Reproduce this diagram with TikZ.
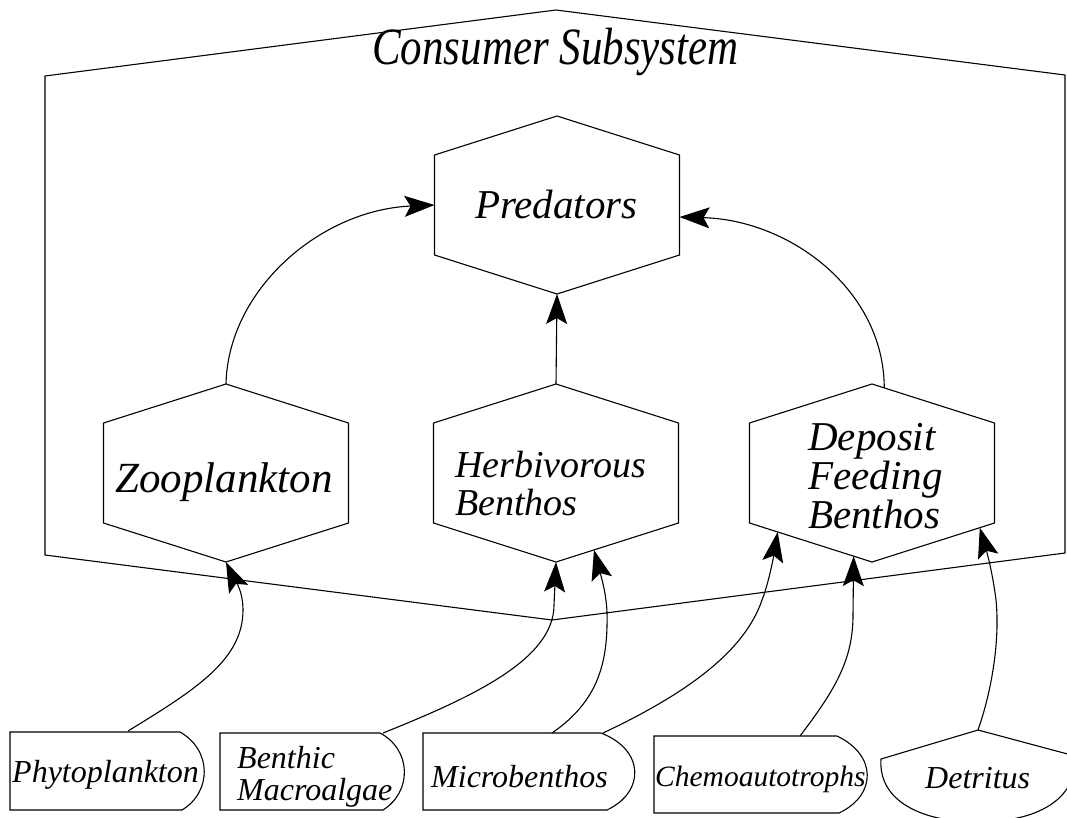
\documentclass[tikz,border=0pt]{standalone}
\usepackage{fontspec}
\setmainfont{Liberation Serif}
\newfontfamily\titlefont[FakeStretch=0.82]{Liberation Serif}
\usetikzlibrary{arrows.meta,calc}
\begin{document}
\begin{tikzpicture}[x=1pt,y=-1pt,
  bord/.style={line width=1.1pt},
  conn/.style={line width=1.1pt,-{Stealth[length=30pt,width=21pt,inset=6pt]}},
  hexnode/.style={minimum width=245pt,minimum height=100pt,inner sep=0pt,outer sep=0pt},
  srclbl/.style={inner sep=0pt,anchor=base west,font=\itshape\fontsize{32}{32}\selectfont,align=left},
  hexlbl/.style={inner sep=0pt,anchor=base west,font=\itshape\fontsize{41}{39}\selectfont,align=left}]
\useasboundingbox (0,0) rectangle (1067,817);
\clip (0,0) rectangle (1067,817);

% outer subsystem boundary
\draw[bord] (45,76) -- (556,10) -- (1065,75) -- (1065,553) -- (552,620) -- (45,555) -- cycle;
\node[inner sep=0pt,anchor=base west,font=\titlefont\itshape\fontsize{52.4}{54}\selectfont] (title) at (372,64) {Consumer Subsystem};

% hexagons
\node[hexnode] (pred) at (557,205) {};
\node[hexnode] (zoo) at (226,473) {};
\node[hexnode] (herb) at (556,473) {};
\node[hexnode] (dep) at (872,473) {};
\foreach \n in {pred,zoo,herb,dep}
  \draw[bord] ([yshift=39pt]\n.north) -- (\n.north east) -- (\n.south east) -- ([yshift=-39pt]\n.south) -- (\n.south west) -- (\n.north west) -- cycle;

\node[hexlbl] (predT) at (475,218) {Predators};
\node[hexlbl,font=\itshape\fontsize{43}{40}\selectfont] (zooT) at (115,492) {Zooplankton};
\node[hexlbl,font=\itshape\fontsize{38}{38}\selectfont] (herbT) at (455,515) {Herbivorous\\Benthos};
\node[hexlbl] (depT) at (808,528) {Deposit\\Feeding\\Benthos};

% source boxes
\draw[bord] (10,732) -- (180,732) .. controls (212,750) and (212,792) .. (182,810) -- (10,810) -- cycle;
\draw[bord] (220,733) -- (380,733) .. controls (412,750) and (412,792) .. (383,810) -- (220,810) -- cycle;
\draw[bord] (423,733) -- (601,733) .. controls (645,750) and (645,792) .. (607,810) -- (423,810) -- cycle;
\draw[bord] (654,736) -- (837,736) .. controls (877,755) and (877,795) .. (839,813) -- (654,813) -- cycle;
\draw[bord] (1075,756) -- (978,730) -- (881,759) .. controls (878,800) and (920,822) .. (978,822) .. controls (1036,822) and (1078,800) .. (1075,756);

\node[srclbl] (phy) at (12,782) {Phytoplankton};
\node[srclbl] (bma) at (237,800) {Benthic\\Macroalgae};
\node[srclbl] (mic) at (431,787) {Microbenthos};
\node[srclbl,font=\itshape\fontsize{29.5}{34}\selectfont] (che) at (655,786) {Chemoautotrophs};
\node[srclbl] (det) at (925,788) {Detritus};

\coordinate (phyout) at (128,731);
\coordinate (bmaout) at (383,733);
\coordinate (micout1) at (552,733);
\coordinate (micout2) at (603,733);
\coordinate (cheout) at (800,736);
\coordinate (detout) at (978,730);

% connectors into consumers
\draw[conn] (phyout) .. controls (195,690) and (243,660) .. (243,610) .. controls (243,588) and (232,575) .. ([yshift=-39pt]zoo.south);
\draw[conn] (bmaout) .. controls (470,698) and (554,660) .. (554,605) -- ([yshift=-39pt]herb.south);
\draw[conn] (micout1) .. controls (600,700) and (608,660) .. (607,612) .. controls (606,592) and (601,576) .. ($([yshift=-39pt]herb.south)!0.31!(herb.south east)$);
\draw[conn] (micout2) .. controls (690,692) and (745,650) .. (762,600) .. controls (768,585) and (773,560) .. ($(dep.south west)!0.23!([yshift=-39pt]dep.south)$);
\draw[conn] (cheout) .. controls (835,690) and (853,660) .. (853,615) -- ($(dep.south west)!0.85!([yshift=-39pt]dep.south)$);
\draw[conn] (detout) .. controls (992,690) and (1000,640) .. (996,600) .. controls (993,576) and (988,556) .. ($([yshift=-39pt]dep.south)!0.88!(dep.south east)$);

% connectors to predators
\draw[conn] ([yshift=39pt]zoo.north) .. controls (228,290) and (320,210) .. (pred.west);
\draw[conn] ([yshift=39pt]herb.north) -- ([yshift=-39pt]pred.south);
\draw[conn] ($([yshift=39pt]dep.north)!0.1!(dep.north east)$) .. controls (884,290) and (790,220) .. ([yshift=-12pt]pred.east);
\end{tikzpicture}
\end{document}
